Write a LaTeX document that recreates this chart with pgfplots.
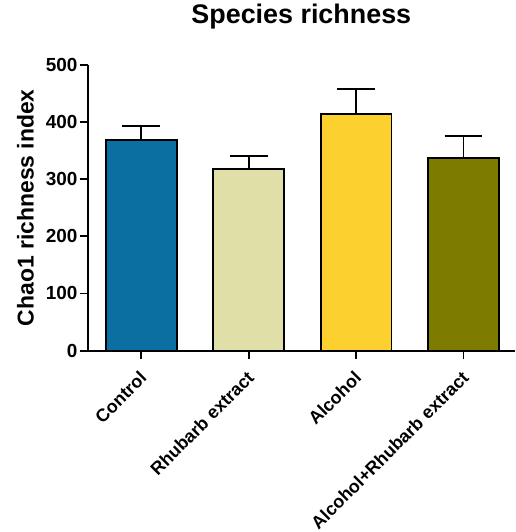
\documentclass[border=0pt]{standalone}
\usepackage{pgfplots}
\pgfplotsset{compat=1.18}
\usepackage{fontspec}
\setmainfont{Liberation Sans}

\definecolor{cControl}{HTML}{0C6FA2}
\definecolor{cRhubarb}{HTML}{E0DFA7}
\definecolor{cAlcohol}{HTML}{FCD02E}
\definecolor{cBoth}{HTML}{7E7C00}

\begin{document}
\begin{tikzpicture}
\begin{axis}[
  scale only axis,
  width=429pt, height=287pt,
  xmin=-0.5, xmax=3.48,
  ymin=0, ymax=500,
  ytick={0,100,...,500},
  xtick={0,1,2,3},
  xticklabels={Control,Rhubarb extract,Alcohol,Alcohol+Rhubarb extract},
  /pgf/number format/assume math mode=true,
  axis lines=left,
  axis line style={-, line width=1.8pt},
  every tick/.style={black, line width=1.8pt},
  tick align=outside,
  major tick length=8pt,
  yticklabel style={font=\fontsize{19}{19}\selectfont\bfseries, inner sep=1pt, xshift=-1pt},
  xticklabel style={font=\fontsize{18}{18}\selectfont\bfseries, rotate=45, anchor=north east, inner sep=1pt, yshift=-5pt, xshift=-9pt},
  ylabel={Chao1 richness index},
  ylabel style={font=\fontsize{23}{23}\selectfont\bfseries, at={(axis description cs:0,0.5)}, anchor=north, inner sep=0pt, yshift=71pt},
  title={Species richness},
  title style={font=\fontsize{27}{27}\selectfont\bfseries, at={(axis description cs:0.5,1)}, anchor=base, inner sep=0pt, yshift=35pt},
  ybar, bar width=71pt, bar shift=0pt,
  error bars/y dir=plus, error bars/y explicit,
  error bars/error mark options={rotate=90, mark size=19pt, line width=1.8pt, black},
  error bars/error bar style={line width=1.8pt, black},
  clip=false,
]
\addplot[fill=cControl, draw=black, line width=1.8pt] coordinates {(0,368) +- (0,25)};
\addplot[fill=cRhubarb, draw=black, line width=1.8pt] coordinates {(1,317) +- (0,23)};
\addplot[fill=cAlcohol, draw=black, line width=1.8pt] coordinates {(2,414) +- (0,44)};
\addplot[fill=cBoth, draw=black, line width=1.8pt] coordinates {(3,337) +- (0,38)};
% white margin around the figure
\path (rel axis cs:-0.2051,-0.627) rectangle (rel axis cs:1.0,1.2265);
\end{axis}
\end{tikzpicture}
\end{document}
